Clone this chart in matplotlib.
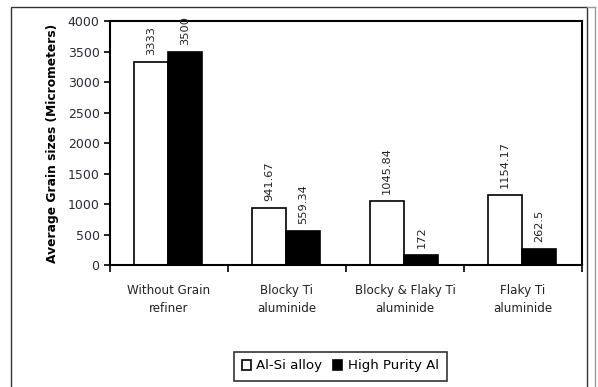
import numpy as np
import matplotlib.pyplot as plt
from matplotlib.patches import Rectangle
from matplotlib.lines import Line2D

categories = ["Without Grain\nrefiner", "Blocky Ti\naluminide",
              "Blocky & Flaky Ti\naluminide", "Flaky Ti\naluminide"]
alsi = [3333, 941.67, 1045.84, 1154.17]
alsi_labels = ["3333", "941.67", "1045.84", "1154.17"]
hpal = [3500, 559.34, 172, 262.5]
hpal_labels = ["3500", "559.34", "172", "262.5"]

W, H = 598, 387
fig = plt.figure(figsize=(W / 100, H / 100), dpi=100)
fig.patch.set_facecolor("white")

# outer chart frame (bottom runs off the image)
fig.patches.append(Rectangle((11 / W, -0.05), (587 - 11) / W, 1.05 - 7 / H,
                             transform=fig.transFigure, fill=False,
                             edgecolor="#333333", lw=1.0))
fig.lines.append(Line2D([595 / W, 595 / W], [-0.05, 1 - 7 / H],
                        transform=fig.transFigure, color="#999999", lw=1.0))
fig.lines.append(Line2D([587 / W, 595 / W], [1 - 7 / H, 1 - 7 / H],
                        transform=fig.transFigure, color="#999999", lw=1.0))

ax = fig.add_axes([110 / W, (H - 265) / H, (582 - 110) / W, (265 - 21) / H])

x = np.arange(len(categories))
w = 0.29
b1 = ax.bar(x - 0.152, alsi, w, color="white", edgecolor="black", lw=1.2,
            label="Al-Si alloy")
b2 = ax.bar(x + 0.138, hpal, w, color="black", edgecolor="black", lw=1.2,
            label="High Purity Al")

for bars, labs in ((b1, alsi_labels), (b2, hpal_labels)):
    for r, lab in zip(bars, labs):
        ax.annotate(lab, (r.get_x() + r.get_width() / 2, r.get_height()),
                    xytext=(0, 5), textcoords="offset points",
                    rotation=90, ha="center", va="bottom", fontsize=8.2,
                    color="#222222")

ax.set_xlim(-0.5, 3.5)
ax.set_ylim(0, 4000)
ax.set_yticks(np.arange(0, 4001, 500))
ax.tick_params(axis="y", labelsize=9, labelcolor="#2a2a3a", length=4,
               direction="out", width=1.2)
ax.set_xticks(x)
ax.set_xticklabels(categories, fontsize=8.6, color="#222222", linespacing=1.5)
ax.tick_params(axis="x", length=0, pad=14)
ax.set_xticks(np.arange(-0.5, 4, 1), minor=True)
ax.tick_params(axis="x", which="minor", length=5, width=1.2, direction="out")
for s in ax.spines.values():
    s.set_linewidth(1.5)

ax.set_ylabel("Average Grain sizes (Micrometers)", fontsize=8.8,
              fontweight="bold", labelpad=6)

leg = fig.legend(loc="center", bbox_to_anchor=(340 / W, 1 - 366 / H), ncol=2,
                 fontsize=9.6, frameon=True, fancybox=False, edgecolor="black",
                 handlelength=0.7, handleheight=0.7, handletextpad=0.4,
                 columnspacing=0.8, borderpad=0.6)
leg.get_frame().set_linewidth(1.2)

fig.savefig("out.png", dpi=100)
